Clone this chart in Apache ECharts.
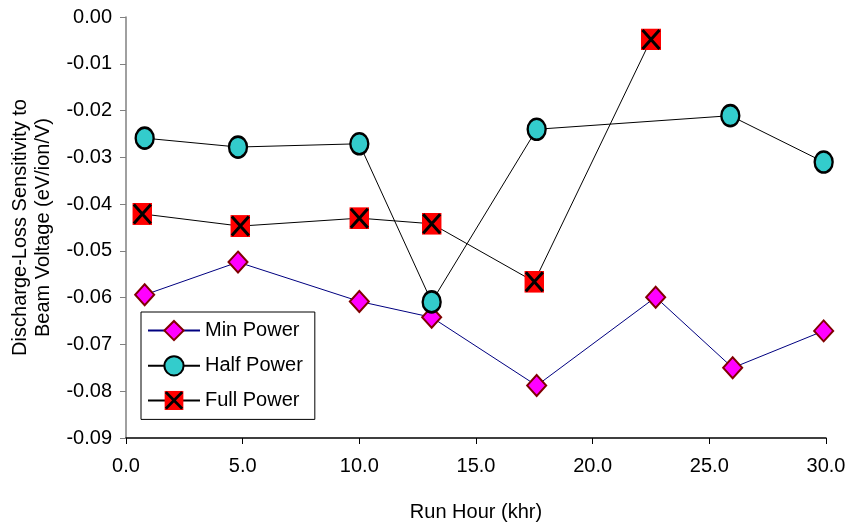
<!DOCTYPE html>
<html><head><meta charset="utf-8">
<script src="https://cdn.jsdelivr.net/npm/echarts@6/dist/echarts.min.js"></script>
<style>html,body{margin:0;padding:0;background:#fff}#c{width:846px;height:525px}</style>
</head><body><div id="c"></div>
<script>
const minHours  = [0.8, 4.8, 10.0, 13.1, 17.6, 22.7, 26.0, 29.9];
const minVals   = [-0.0594, -0.0524, -0.0608, -0.0642, -0.0788, -0.0599, -0.0750, -0.0671];
const halfHours = [0.8, 4.8, 10.0, 13.1, 17.6, 25.9, 29.9];
const halfVals  = [-0.0259, -0.0278, -0.0271, -0.0609, -0.0240, -0.0211, -0.0310];
const fullHours = [0.7, 4.9, 10.0, 13.1, 17.5, 22.5];
const fullVals  = [-0.0421, -0.0447, -0.0430, -0.0442, -0.0566, -0.0048];
const seriesNames = ['Min Power', 'Half Power', 'Full Power'];
const xTicks = [0, 5, 10, 15, 20, 25, 30];
const yTicks = [0, -0.01, -0.02, -0.03, -0.04, -0.05, -0.06, -0.07, -0.08, -0.09];

const pairs = (xs, ys) => xs.map((x, i) => [x, ys[i]]);
const xSvg = '<svg xmlns="http://www.w3.org/2000/svg" width="20" height="22" viewBox="0 0 20 22">' +
  '<rect x="0" y="0" width="20" height="22" fill="#FF0000"/>' +
  '<path d="M1.5 1.5 L18.5 20.5 M18.5 1.5 L1.5 20.5" stroke="#000" stroke-width="3" fill="none"/></svg>';
const xSymbol = 'image://data:image/svg+xml;charset=utf-8,' + encodeURIComponent(xSvg);
const font = 'Liberation Sans';

const chart = echarts.init(document.getElementById('c'));
chart.setOption({
  animation: false,
  backgroundColor: '#fff',
  grid: { left: 126, right: 20, top: 17, bottom: 87, outerBoundsMode: 'none', containLabel: false },
  legend: {
    orient: 'vertical', left: 141, top: 312,
    itemWidth: 52, itemHeight: 24, itemGap: 14,
    padding: [8, 12, 9, 6],
    borderColor: '#000', borderWidth: 1, backgroundColor: '#fff',
    textStyle: { fontFamily: font, fontSize: 20, color: '#000' },
    data: seriesNames
  },
  xAxis: {
    type: 'value', min: 0, max: 30, interval: 5,
    name: 'Run Hour (khr)', nameLocation: 'middle', nameGap: 64,
    nameTextStyle: { fontFamily: font, fontSize: 20, color: '#000' },
    axisLine: { show: true, onZero: false, lineStyle: { color: '#000', width: 1.5 } },
    axisTick: { show: true, length: 6, lineStyle: { color: '#000' } },
    axisLabel: { fontFamily: font, fontSize: 20, color: '#000', margin: 18,
      formatter: v => xTicks.includes(v) ? v.toFixed(1) : '' },
    splitLine: { show: false }
  },
  yAxis: {
    type: 'value', min: -0.09, max: 0, interval: 0.01,
    name: 'Discharge-Loss Sensitivity to\nBeam Voltage (eV/ion/V)',
    nameLocation: 'middle', nameGap: 71, nameRotate: 90,
    nameTextStyle: { fontFamily: font, fontSize: 20, color: '#000', lineHeight: 23 },
    axisLine: { show: true, onZero: false, lineStyle: { color: '#808080', width: 1.5 } },
    axisTick: { show: true, length: 6, lineStyle: { color: '#808080' } },
    axisLabel: { fontFamily: font, fontSize: 20, color: '#000', margin: 14,
      formatter: v => { const r = Math.round(v * 100) / 100; return r.toFixed(2); } },
    splitLine: { show: false }
  },
  series: [
    { name: seriesNames[0], type: 'line', data: pairs(minHours, minVals),
      symbol: 'diamond', symbolSize: [19, 21],
      lineStyle: { color: '#000080', width: 1 },
      itemStyle: { color: '#FF00FF', borderColor: '#800000', borderWidth: 2 }, z: 2 },
    { name: seriesNames[1], type: 'line', data: pairs(halfHours, halfVals),
      symbol: 'circle', symbolSize: [18, 21],
      lineStyle: { color: '#000', width: 1 },
      itemStyle: { color: '#33CCCC', borderColor: '#000', borderWidth: 2.5 }, z: 3 },
    { name: seriesNames[2], type: 'line', data: pairs(fullHours, fullVals),
      symbol: xSymbol, symbolSize: [20, 22],
      lineStyle: { color: '#000', width: 1 },
      itemStyle: { color: '#FF0000' }, z: 2 }
  ]
});
</script></body></html>
